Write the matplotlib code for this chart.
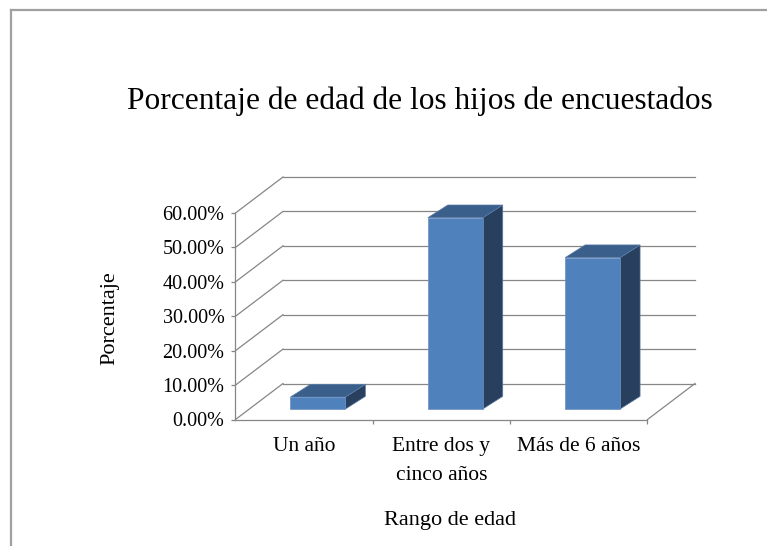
import matplotlib
matplotlib.use("Agg")
import matplotlib.pyplot as plt
from matplotlib.patches import Polygon
from matplotlib.lines import Line2D

# ---- data ----
categories = ["Un año", "Entre dos y\ncinco años", "Más de 6 años"]
values = [3.5, 55.6, 44.0]          # percent
yticks = [0, 10, 20, 30, 40, 50, 60]
title = "Porcentaje de edad de los hijos de encuestados"
xlabel = "Rango de edad"
ylabel = "Porcentaje"

W, H, DPI = 767, 546, 100
fig = plt.figure(figsize=(W / DPI, H / DPI), dpi=DPI)
plt.rcParams['font.family'] = ['Liberation Serif', 'DejaVu Serif']

def fx(px):
    return px / W

def fy(py):
    return 1 - py / H

# front plane of the 3-D box (pixels)
L, R, B, T = 235.5, 647.5, 419.5, 213.0
ax = fig.add_axes([fx(L), fy(B), fx(R) - fx(L), fy(T) - fy(B)])
ax.set_xlim(-0.5, 2.5)
ax.set_ylim(0, 60)
ax.set_facecolor('none')

pxx = (R - L) / 3.0      # pixels per category unit
pxy = (B - T) / 60.0     # pixels per percent
DX = 47.5 / pxx          # floor depth (data units)
DY = 36.0 / pxy
grid_c = '#868686'
lw = 0.9

# walls: back gridlines and left-wall diagonals
for v in yticks:
    ax.add_line(Line2D([-0.5 + DX, 2.5 + DX], [v + DY, v + DY], color=grid_c, lw=lw, clip_on=False, zorder=1))
    ax.add_line(Line2D([-0.5, -0.5 + DX], [v, v + DY], color=grid_c, lw=lw, clip_on=False, zorder=1))
# right floor edge
ax.add_line(Line2D([2.5, 2.5 + DX], [0, DY], color=grid_c, lw=lw, clip_on=False, zorder=1))

# bars
f = 0.29
bw = 0.40
bdx = 20.0 / pxx
bdy = 12.7 / pxy
c_front, c_top, c_side = '#4F81BD', '#3A5F8B', '#283F5E'
for i, v in enumerate(values):
    x0 = i - bw / 2 + f * DX
    x1 = x0 + bw
    y0 = f * DY
    y1 = y0 + v
    front = Polygon([[x0, y0], [x1, y0], [x1, y1], [x0, y1]], closed=True,
                    facecolor=c_front, edgecolor='#6B8FC0', lw=0.5, clip_on=False, zorder=3)
    top = Polygon([[x0, y1], [x1, y1], [x1 + bdx, y1 + bdy], [x0 + bdx, y1 + bdy]], closed=True,
                  facecolor=c_top, edgecolor='#5A7CA8', lw=0.5, clip_on=False, zorder=3)
    side = Polygon([[x1, y0], [x1 + bdx, y0 + bdy], [x1 + bdx, y1 + bdy], [x1, y1]], closed=True,
                   facecolor=c_side, edgecolor='#5A7CA8', lw=0.5, clip_on=False, zorder=3)
    for p in (side, top, front):
        ax.add_patch(p)

# axes styling
for s in ('top', 'right'):
    ax.spines[s].set_visible(False)
for s in ('left', 'bottom'):
    ax.spines[s].set_color(grid_c)
    ax.spines[s].set_linewidth(lw)
    ax.spines[s].set_zorder(2)

ax.set_yticks(yticks)
ax.set_yticklabels([f"{v:.2f}%" for v in yticks])
ax.tick_params(axis='y', length=3, width=lw, color=grid_c, pad=5, labelsize=14.5, labelcolor='black')

ax.set_xticks([0, 1, 2])
ax.set_xticklabels([])
ax.set_xticks([0.5, 1.5, 2.5], minor=True)
ax.tick_params(axis='x', which='major', length=0)
ax.tick_params(axis='x', which='minor', length=3, width=lw, color=grid_c)

# category labels
for i, c in enumerate(categories):
    fig.text(fx(L + (i + 0.5) * pxx), fy(437), c, ha='center', va='top', fontsize=15.5,
             linespacing=1.75)

fig.text(fx(420), fy(108.5), title, ha='center', va='baseline', fontsize=22.6)
fig.text(fx(450), fy(520), xlabel, ha='center', va='center', fontsize=16)
fig.text(fx(110), fy(318), ylabel, ha='center', va='center', rotation=90, fontsize=16)

# outer frame (partial, as in reference)
fig.add_artist(Line2D([fx(11), fx(11)], [fy(10), 0], transform=fig.transFigure, color='#A0A0A0', lw=1.6))
fig.add_artist(Line2D([fx(11), 1], [fy(10), fy(10)], transform=fig.transFigure, color='#A0A0A0', lw=1.6))

fig.savefig("out.png", dpi=DPI)
